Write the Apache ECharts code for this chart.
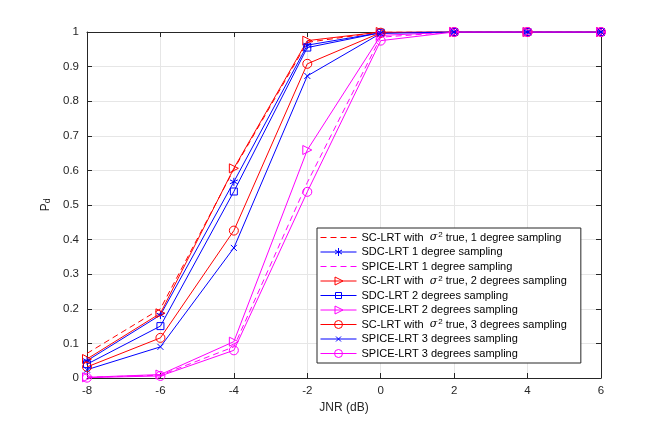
<!DOCTYPE html>
<html>
<head>
<meta charset="utf-8">
<script src="https://cdn.jsdelivr.net/npm/echarts@6/dist/echarts.min.js"></script>
<style>
  html, body { margin: 0; padding: 0; background: #fff; }
  #chart { width: 664px; height: 425px; }
</style>
</head>
<body>
<div id="chart"></div>
<script>
// JNR values (dB) and detection probabilities
var jnr = [-8, -6, -4, -2, 0, 2, 4, 6];
var xTicks = [-8, -6, -4, -2, 0, 2, 4, 6];
var yTicks = [0, 0.1, 0.2, 0.3, 0.4, 0.5, 0.6, 0.7, 0.8, 0.9, 1];

var scLrt1 = [0.071, 0.2, 0.603, 0.97, 1, 1, 1, 1];
var sdcLrt1 = [0.05, 0.182, 0.567, 0.962, 0.998, 1, 1, 1];
var spiceLrt1 = [0.002, 0.008, 0.09, 0.565, 0.985, 1, 1, 1];
var scLrt2 = [0.055, 0.187, 0.606, 0.975, 1, 1, 1, 1];
var sdcLrt2 = [0.04, 0.15, 0.539, 0.955, 0.998, 1, 1, 1];
var spiceLrt2 = [0.002, 0.01, 0.105, 0.659, 0.99, 1, 1, 1];
var scLrt3 = [0.032, 0.116, 0.426, 0.908, 0.998, 1, 1, 1];
var spiceLrt3x = [0.024, 0.09, 0.376, 0.873, 0.996, 1, 1, 1];
var spiceLrt3 = [0.001, 0.006, 0.08, 0.538, 0.975, 1, 1, 1];

var RED = '#ff0000', BLUE = '#0000ff', MAG = '#ff00ff';
var TXT = '#262626';

// marker shapes (unit paths for the plot)
var asterisk = 'path://M0,-1L0,1M-0.87,-0.5L0.87,0.5M-0.87,0.5L0.87,-0.5';
var cross = 'path://M-1,-1L1,1M-1,1L1,-1';

// legend glyphs: 36x10 box, line through the middle, marker centred
var BOX = 'M0,0L0,0M36,10L36,10';
var LINE = 'M0,5L36,5';
var legendGlyph = {
  dashed: 'path://' + BOX + 'M0,5L6,5M10,5L16,5M20,5L26,5M30,5L36,5',
  asterisk: 'path://' + BOX + LINE + 'M18,1L18,9M14.5,3L21.5,7M14.5,7L21.5,3',
  triangle: 'path://' + BOX + LINE + 'M14.5,1L22.5,5L14.5,9Z',
  rect: 'path://' + BOX + LINE + 'M15,2L21,2L21,8L15,8Z',
  circle: 'path://' + BOX + LINE + 'M22,5A4,4 0 1,1 14,5A4,4 0 1,1 22,5Z',
  cross: 'path://' + BOX + LINE + 'M15.5,2.5L20.5,7.5M15.5,7.5L20.5,2.5'
};

function pairs(ys) {
  return jnr.map(function (x, i) { return [x, ys[i]]; });
}

function mkSeries(name, ys, color, dashed, symbol, size, rotate) {
  var s = {
    name: name,
    type: 'line',
    data: pairs(ys),
    color: color,
    lineStyle: { color: color, width: 1, type: dashed ? [6, 4] : 'solid' },
    symbol: symbol || 'none',
    symbolSize: size || 7,
    showSymbol: !!symbol,
    itemStyle: { color: 'rgba(0,0,0,0)', borderColor: color, borderWidth: 1 },
    emphasis: { disabled: true },
    animation: false,
    z: 3
  };
  if (rotate) s.symbolRotate = rotate;
  return s;
}

var series = [
  mkSeries('SC-LRT with  {s|σ}{sup|2} true, 1 degree sampling', scLrt1, RED, true),
  mkSeries('SDC-LRT 1 degree sampling', sdcLrt1, BLUE, false, asterisk, 8),
  mkSeries('SPICE-LRT 1 degree sampling', spiceLrt1, MAG, true),
  mkSeries('SC-LRT with  {s|σ}{sup|2} true, 2 degrees sampling', scLrt2, RED, false, 'triangle', 9, -90),
  mkSeries('SDC-LRT 2 degrees sampling', sdcLrt2, BLUE, false, 'rect', 7),
  mkSeries('SPICE-LRT 2 degrees sampling', spiceLrt2, MAG, false, 'triangle', 9, -90),
  mkSeries('SC-LRT with  {s|σ}{sup|2} true, 3 degrees sampling', scLrt3, RED, false, 'circle', 9),
  mkSeries('SPICE-LRT 3 degrees sampling ', spiceLrt3x, BLUE, false, cross, 6),
  mkSeries('SPICE-LRT 3 degrees sampling', spiceLrt3, MAG, false, 'circle', 9)
];
var glyphKeys = ['dashed', 'asterisk', 'dashed', 'triangle', 'rect', 'triangle', 'circle', 'cross', 'circle'];

var gridLine = { show: true, lineStyle: { color: '#e6e6e6', width: 1 } };
var tickIn = { show: true, inside: true, length: 5, lineStyle: { color: TXT } };
var axLine = { show: true, onZero: false, lineStyle: { color: TXT, width: 1 } };
var font = 'Liberation Sans, Arial, sans-serif';

var legendData = series.map(function (s, i) {
  return {
    name: s.name,
    icon: legendGlyph[glyphKeys[i]],
    itemStyle: { color: 'rgba(0,0,0,0)', borderColor: s.color, borderWidth: 1, opacity: 1 }
  };
});

var option = {
  backgroundColor: '#fff',
  animation: false,
  grid: { left: 87, right: 63, top: 32, bottom: 47 },
  legend: {
    orient: 'vertical',
    left: 317,
    top: 228,
    padding: [3, 14, 3, 3],
    itemGap: 1.5,
    itemWidth: 36,
    itemHeight: 10,
    symbolKeepAspect: true,
    backgroundColor: '#fff',
    borderColor: TXT,
    borderWidth: 1,
    borderRadius: 0,
    selectedMode: false,
    textStyle: {
      color: '#000', fontFamily: font, fontSize: 11, lineHeight: 13,
      rich: {
        s: { fontFamily: 'DejaVu Serif', fontStyle: 'italic', fontSize: 11, color: '#000' },
        sup: { fontSize: 8, color: '#000', verticalAlign: 'top', padding: [0, 0, 7, 1] }
      }
    },
    data: legendData
  },
  xAxis: [{
    type: 'value', min: xTicks[0], max: xTicks[xTicks.length - 1], interval: 2,
    name: 'JNR (dB)', nameLocation: 'middle', nameGap: 20,
    nameTextStyle: { color: TXT, fontFamily: font, fontSize: 12 },
    axisLine: axLine, axisTick: tickIn, splitLine: gridLine,
    axisLabel: { color: TXT, fontFamily: font, fontSize: 11.5, margin: 7 }
  }, {
    type: 'value', position: 'top', min: xTicks[0], max: xTicks[xTicks.length - 1], interval: 2,
    axisLine: axLine, axisTick: tickIn, splitLine: { show: false }, axisLabel: { show: false }
  }],
  yAxis: [{
    type: 'value', min: yTicks[0], max: yTicks[yTicks.length - 1], interval: 0.1,
    name: '{p|P}{d|d}', nameLocation: 'middle', nameGap: 33, nameRotate: 90,
    nameTextStyle: {
      color: TXT, fontFamily: font,
      rich: {
        p: { fontSize: 12, fontFamily: font, color: TXT },
        d: { fontSize: 8.5, fontFamily: font, color: TXT, verticalAlign: 'bottom', padding: [4, 0, 0, 0] }
      }
    },
    axisLine: axLine, axisTick: tickIn, splitLine: gridLine,
    axisLabel: { color: TXT, fontFamily: font, fontSize: 11.5, margin: 8 }
  }, {
    type: 'value', position: 'right', min: yTicks[0], max: yTicks[yTicks.length - 1], interval: 0.1,
    axisLine: axLine, axisTick: tickIn, splitLine: { show: false }, axisLabel: { show: false }
  }],
  series: series
};

var chart = echarts.init(document.getElementById('chart'), null, { renderer: 'canvas' });
chart.setOption(option);
</script>
</body>
</html>
